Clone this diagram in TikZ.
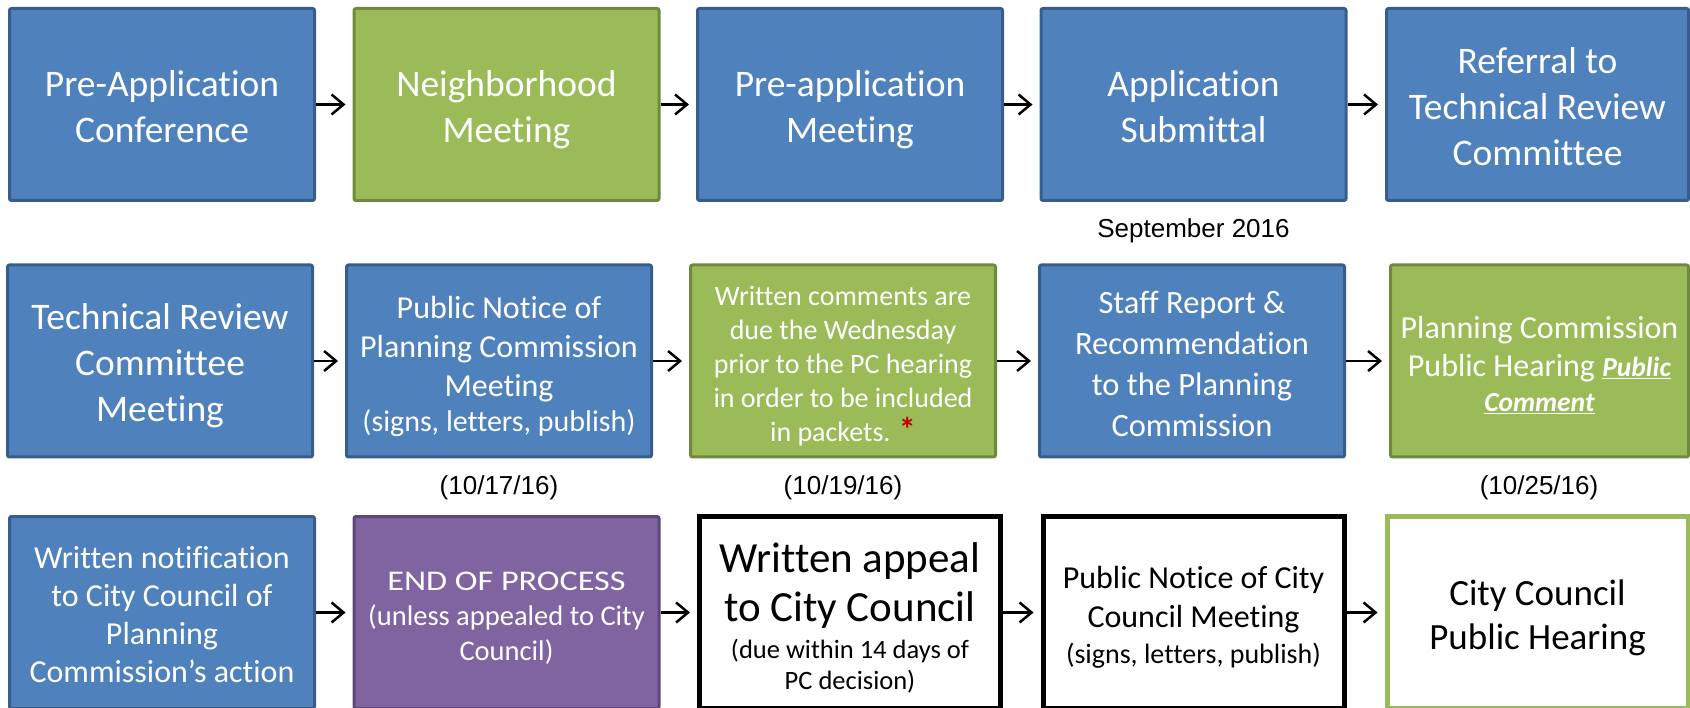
\documentclass[tikz,border=0pt]{standalone}
\usepackage{fontspec}
\usepackage{graphicx}
\setmainfont{Carlito}[Ligatures=NoCommon]
\newfontfamily\arialf{Liberation Sans}
\usetikzlibrary{arrows.meta}
\definecolor{bfill}{HTML}{4F81BD}
\definecolor{bdraw}{HTML}{385D8A}
\definecolor{gfill}{HTML}{9BBB59}
\definecolor{gdraw}{HTML}{71893F}
\definecolor{pfill}{HTML}{8064A2}
\definecolor{pdraw}{HTML}{5C4776}
\definecolor{astred}{HTML}{C00000}
\newcommand\tstrut{\rule{0pt}{\dimexpr0.78em+10pt\relax}}
\newcommand\bstrut{\rule[-0.25em]{0pt}{0pt}}
\begin{document}
\begin{tikzpicture}[x=1pt,y=-1pt,
 box/.style={rectangle, rounded corners=2pt, line width=3pt, align=center, inner sep=0pt, minimum height=192pt, minimum width=305pt},
 bluebox/.style={box, fill=bfill, draw=bdraw, text=white},
 greenbox/.style={box, fill=gfill, draw=gdraw, text=white},
 purplebox/.style={box, fill=pfill, draw=pdraw, text=white},
 whitebox/.style={box, fill=white, draw=black, line width=5pt, rounded corners=0pt, minimum width=301pt, text=black},
 gwhitebox/.style={box, fill=white, draw=gfill, line width=5pt, rounded corners=0pt, minimum width=301pt, text=black},
 arr/.style={line width=2.5pt, -{Straight Barb[length=12pt,width=20pt]}, shorten >=7pt},
 datelbl/.style={font=\arialf\fontsize{26}{30}\selectfont, text=black, inner sep=0pt},
 big/.style={font=\fontsize{37.5}{46}\selectfont}
]
\useasboundingbox (0,0) rectangle (1690,708);
\clip (0,0) rectangle (1690,708);

% Row 1
\node[bluebox, big] (a1) at (162,104.5) {\tstrut Pre-Application\\Conference\bstrut};
\node[greenbox, big] (a2) at (506.5,104.5) {\tstrut Neighborhood\\Meeting\bstrut};
\node[bluebox, big] (a3) at (850,104.5) {\tstrut Pre-application\\Meeting\bstrut};
\node[bluebox, big] (a4) at (1193.5,104.5) {\tstrut Application\\Submittal\bstrut};
\node[bluebox, big, minimum width=302pt] (a5) at (1537.5,104.5) {\tstrut Referral to\\Technical Review\\Committee\bstrut};

\node[datelbl] (d1) at (1193.5,231) {September 2016};

% Row 2
\node[bluebox, big] (b1) at (160,361) {\tstrut Technical Review\\Committee\\Meeting\bstrut};
\node[bluebox, font=\fontsize{32}{39}\selectfont] (b2) at (499,361) {\tstrut Public Notice of\\Planning Commission\\Meeting\\[-4pt]{\fontsize{30}{36}\selectfont (signs, letters, publish)\bstrut}};
\node[greenbox, font=\fontsize{28}{34}\selectfont] (b3) at (843,361) {\tstrut Written comments are\\due the Wednesday\\prior to the PC hearing\\in order to be included\\in packets. {\fontsize{34}{34}\selectfont\bfseries\color{astred}*}\bstrut};
\node[bluebox, font=\fontsize{32.5}{41}\selectfont] (b4) at (1192,361) {\tstrut Staff Report \&\\Recommendation\\to the Planning\\Commission\bstrut};
\node[greenbox, font=\fontsize{32}{38}\selectfont, minimum width=298pt] (b5) at (1539.5,361) {\tstrut Planning Commission\\Public Hearing {\fontsize{27.5}{33}\selectfont\underline{\textbf{\textit{Public}}}}\\[-3pt]{\fontsize{27.5}{33}\selectfont\underline{\textbf{\textit{Comment}}}\bstrut}};

\node[datelbl] (d2) at (499,488) {(10/17/16)};
\node[datelbl] (d3) at (843,488) {(10/19/16)};
\node[datelbl] (d4) at (1539,488) {(10/25/16)};

% Row 3
\node[bluebox, font=\fontsize{32}{38}\selectfont] (c1) at (162,612.5) {\tstrut Written notification\\to City Council of\\Planning\\Commission’s action\bstrut};
\node[purplebox, font=\fontsize{28.5}{35}\selectfont] (c2) at (506.5,612.5) {\tstrut\scalebox{1.2}[1]{END OF PROCESS}\\(unless appealed to City\\Council)\bstrut};
\node[whitebox, font=\fontsize{43}{52}\selectfont] (c3) at (850,612.5) {\tstrut Written appeal\\[-3pt]to City Council\\[-15pt]{\fontsize{26.5}{32}\selectfont (due within 14 days of}\\[-21pt]{\fontsize{26.5}{32}\selectfont PC decision)\bstrut}};
\node[whitebox, font=\fontsize{32}{39}\selectfont] (c4) at (1193.5,612.5) {\tstrut Public Notice of City\\Council Meeting\\[-3pt]{\fontsize{28}{34}\selectfont (signs, letters, publish)\bstrut}};
\node[gwhitebox, font=\fontsize{37}{44}\selectfont] (c5) at (1537.5,612.5) {\tstrut City Council\\Public Hearing\bstrut};

% Arrows
\draw[arr] (a1) -- (a2);
\draw[arr] (a2) -- (a3);
\draw[arr] (a3) -- (a4);
\draw[arr] (a4) -- (a5);
\draw[arr] (b1) -- (b2);
\draw[arr] (b2) -- (b3);
\draw[arr] (b3) -- (b4);
\draw[arr] (b4) -- (b5);
\draw[arr] (c1) -- (c2);
\draw[arr] (c2) -- (c3);
\draw[arr] (c3) -- (c4);
\draw[arr] (c4) -- (c5);
\end{tikzpicture}
\end{document}
